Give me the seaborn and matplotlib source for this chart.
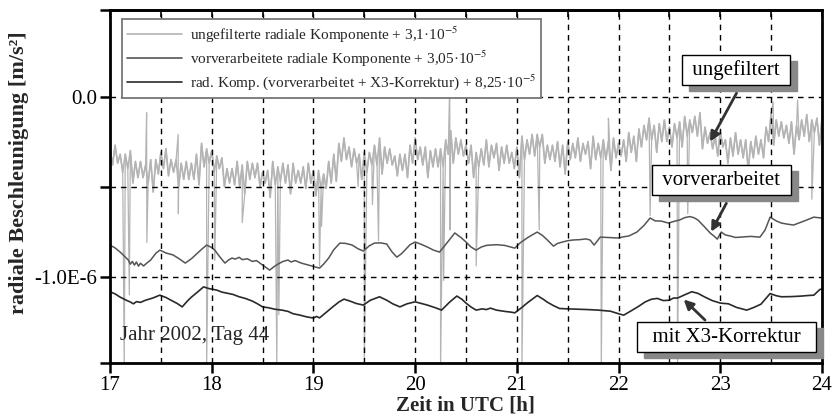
import numpy as np
import pandas as pd
import matplotlib
matplotlib.use("Agg")
import matplotlib.pyplot as plt
import matplotlib.transforms as mtransforms
import seaborn as sns

# ---------------- data (values in 1e-6 m/s^2) ----------------
# unfiltered radial component, sampled every 0.025 h from 17.0 to 24.0
raw_values = [
    -0.29, -0.38, -0.27, -0.37, -0.32, -0.42, -0.32, -0.40, -0.30, -0.48,
    -0.36, -0.45, -0.36, -0.45, -0.38, -0.48, -0.35, -0.53, -0.35, -0.43,
    -0.31, -0.40, -0.29, -0.44, -0.35, -0.42, -0.35, -0.50, -0.37, -0.46,
    -0.36, -0.46, -0.37, -0.46, -0.32, -0.49, -0.26, -0.39, -0.29, -0.37,
    -0.30, -0.42, -0.33, -0.40, -0.34, -0.50, -0.40, -0.48, -0.40, -0.49,
    -0.36, -0.50, -0.38, -0.54, -0.36, -0.46, -0.37, -0.45, -0.37, -0.50,
    -0.42, -0.48, -0.41, -0.56, -0.36, -0.49, -0.39, -0.47, -0.37, -0.48,
    -0.38, -0.54, -0.37, -0.48, -0.41, -0.48, -0.39, -0.51, -0.37, -0.48,
    -0.41, -0.55, -0.41, -0.51, -0.43, -0.51, -0.36, -0.48, -0.32, -0.47,
    -0.26, -0.36, -0.23, -0.35, -0.28, -0.39, -0.29, -0.37, -0.32, -0.46,
    -0.31, -0.42, -0.31, -0.38, -0.27, -0.38, -0.23, -0.43, -0.28, -0.37,
    -0.29, -0.38, -0.33, -0.44, -0.32, -0.41, -0.32, -0.45, -0.27, -0.37,
    -0.23, -0.35, -0.28, -0.38, -0.28, -0.45, -0.30, -0.39, -0.29, -0.39,
    -0.29, -0.39, -0.24, -0.32, -0.19, -0.37, -0.23, -0.32, -0.24, -0.33,
    -0.27, -0.37, -0.27, -0.45, -0.31, -0.39, -0.29, -0.38, -0.24, -0.39,
    -0.27, -0.34, -0.26, -0.41, -0.28, -0.37, -0.27, -0.37, -0.31, -0.40,
    -0.28, -0.45, -0.22, -0.35, -0.24, -0.32, -0.21, -0.33, -0.21, -0.28,
    -0.21, -0.37, -0.27, -0.35, -0.27, -0.36, -0.25, -0.39, -0.27, -0.43,
    -0.25, -0.35, -0.26, -0.34, -0.23, -0.36, -0.26, -0.32, -0.25, -0.40,
    -0.22, -0.35, -0.26, -0.34, -0.24, -0.35, -0.25, -0.41, -0.23, -0.34,
    -0.26, -0.33, -0.24, -0.36, -0.20, -0.31, -0.22, -0.36, -0.18, -0.28,
    -0.16, -0.24, -0.12, -0.24, -0.16, -0.31, -0.15, -0.25, -0.13, -0.25,
    -0.17, -0.28, -0.15, -0.23, -0.14, -0.28, -0.11, -0.22, -0.13, -0.20,
    -0.11, -0.22, -0.09, -0.29, -0.17, -0.26, -0.20, -0.29, -0.22, -0.33,
    -0.19, -0.28, -0.24, -0.37, -0.23, -0.33, -0.20, -0.32, -0.24, -0.34,
    -0.24, -0.41, -0.25, -0.34, -0.22, -0.32, -0.24, -0.34, -0.17, -0.25,
    -0.09, -0.27, -0.13, -0.22, -0.14, -0.23, -0.16, -0.26, -0.14, -0.32,
    -0.16, -0.24, -0.13, -0.22, -0.10, -0.25, -0.13, -0.20, -0.12, -0.27,
    -0.12,
]
raw_time = np.linspace(17.0, 24.0, len(raw_values))

# isolated spikes of the unfiltered series (time, extreme value)
spike_time = [17.14, 17.19, 17.36, 17.362, 17.67, 17.672, 17.95, 18.03, 18.30,
              18.64, 18.66, 19.06, 19.08, 19.44, 19.50, 19.58, 19.64, 20.25,
              20.28, 20.34, 20.342, 20.60, 21.05, 21.22, 21.83, 21.90, 22.31,
              22.58, 22.68, 23.52, 23.76, 23.90]
spike_value = [-1.50, -1.10, -0.09, -0.81, -0.21, -0.65, -1.50, -0.91, -0.70,
               -1.50, -1.21, -0.94, -0.72, -0.50, -1.50, -0.60, -0.80, -1.50,
               -1.02, 0.08, -0.74, -0.94, -1.50, -0.74, -1.50, -0.12, -0.66,
               -1.50, -0.65, -0.03, -0.02, -0.57]

# preprocessed radial component
pre_time = [17.00, 17.05, 17.10, 17.15, 17.18, 17.20, 17.22, 17.24, 17.26, 17.28,
            17.30, 17.33, 17.36, 17.40, 17.45, 17.49, 17.55, 17.62, 17.68, 17.74,
            17.80, 17.85, 17.90, 17.95, 18.00, 18.03, 18.08, 18.13, 18.17, 18.20,
            18.23, 18.27, 18.30, 18.35, 18.40, 18.44, 18.50, 18.57, 18.61, 18.65,
            18.70, 18.75, 18.78, 18.82, 18.88, 18.95, 19.01, 19.06, 19.10, 19.15,
            19.20, 19.26, 19.32, 19.38, 19.44, 19.49, 19.55, 19.60, 19.66, 19.72,
            19.77, 19.82, 19.86, 19.90, 19.95, 20.00, 20.06, 20.12, 20.18, 20.24,
            20.28, 20.32, 20.39, 20.45, 20.50, 20.55, 20.60, 20.65, 20.70, 20.74,
            20.80, 20.88, 20.94, 20.98, 21.03, 21.10, 21.15, 21.20, 21.25, 21.30,
            21.36, 21.40, 21.45, 21.50, 21.55, 21.62, 21.68, 21.72, 21.76, 21.82,
            21.90, 22.00, 22.05, 22.10, 22.18, 22.25, 22.31, 22.36, 22.42, 22.49,
            22.55, 22.60, 22.65, 22.70, 22.74, 22.78, 22.84, 22.90, 22.94, 22.97,
            23.01, 23.05, 23.10, 23.15, 23.20, 23.30, 23.39, 23.44, 23.49, 23.55,
            23.60, 23.66, 23.72, 23.78, 23.85, 23.92, 23.96, 24.00]
pre_value = [-0.824, -0.840, -0.863, -0.890, -0.907, -0.930, -0.915, -0.935,
             -0.918, -0.941, -0.925, -0.940, -0.925, -0.907, -0.870, -0.852,
             -0.868, -0.879, -0.900, -0.924, -0.900, -0.874, -0.848, -0.824,
             -0.838, -0.852, -0.890, -0.924, -0.905, -0.896, -0.902, -0.892,
             -0.905, -0.900, -0.915, -0.910, -0.935, -0.963, -0.945, -0.930,
             -0.915, -0.907, -0.918, -0.910, -0.924, -0.935, -0.944, -0.952,
             -0.930, -0.896, -0.850, -0.813, -0.815, -0.824, -0.845, -0.857,
             -0.828, -0.813, -0.812, -0.818, -0.860, -0.891, -0.875, -0.852,
             -0.822, -0.807, -0.820, -0.835, -0.852, -0.863, -0.835, -0.807,
             -0.757, -0.782, -0.807, -0.835, -0.852, -0.835, -0.826, -0.824,
             -0.822, -0.826, -0.835, -0.841, -0.813, -0.785, -0.768, -0.752,
             -0.770, -0.796, -0.830, -0.815, -0.807, -0.800, -0.796, -0.794,
             -0.790, -0.796, -0.824, -0.780, -0.782, -0.785, -0.778, -0.774,
             -0.752, -0.715, -0.674, -0.690, -0.691, -0.702, -0.692, -0.685,
             -0.672, -0.666, -0.672, -0.685, -0.720, -0.757, -0.775, -0.791,
             -0.752, -0.768, -0.774, -0.782, -0.780, -0.776, -0.780, -0.741,
             -0.669, -0.690, -0.702, -0.708, -0.713, -0.700, -0.685, -0.669,
             -0.672, -0.674]

# preprocessed + X3 correction
x3_time = [17.00, 17.05, 17.10, 17.16, 17.20, 17.23, 17.26, 17.30, 17.35, 17.42,
           17.49, 17.55, 17.60, 17.66, 17.71, 17.76, 17.80, 17.86, 17.92, 17.97,
           18.05, 18.10, 18.15, 18.21, 18.27, 18.33, 18.40, 18.45, 18.50, 18.56,
           18.62, 18.69, 18.75, 18.80, 18.87, 18.93, 19.00, 19.03, 19.06, 19.12,
           19.19, 19.25, 19.30, 19.36, 19.42, 19.49, 19.56, 19.65, 19.72, 19.78,
           19.85, 19.92, 20.00, 20.06, 20.12, 20.20, 20.26, 20.34, 20.41, 20.46,
           20.50, 20.55, 20.60, 20.66, 20.70, 20.74, 20.80, 20.88, 20.94, 20.98,
           21.05, 21.10, 21.20, 21.26, 21.30, 21.36, 21.42, 21.50, 21.60, 21.70,
           21.80, 21.86, 21.92, 22.00, 22.05, 22.12, 22.20, 22.26, 22.32, 22.38,
           22.44, 22.50, 22.54, 22.58, 22.65, 22.72, 22.78, 22.85, 22.92, 23.00,
           23.08, 23.16, 23.26, 23.33, 23.40, 23.49, 23.55, 23.60, 23.70, 23.80,
           23.86, 23.92, 23.98, 24.00]
x3_value = [-1.083, -1.095, -1.113, -1.130, -1.140, -1.150, -1.138, -1.142,
            -1.130, -1.118, -1.102, -1.115, -1.130, -1.148, -1.167, -1.135,
            -1.113, -1.085, -1.056, -1.065, -1.074, -1.085, -1.091, -1.098,
            -1.111, -1.120, -1.135, -1.150, -1.167, -1.172, -1.180, -1.185,
            -1.192, -1.205, -1.213, -1.222, -1.229, -1.220, -1.228, -1.200,
            -1.167, -1.140, -1.124, -1.135, -1.148, -1.157, -1.130, -1.111,
            -1.130, -1.150, -1.167, -1.150, -1.139, -1.148, -1.157, -1.172,
            -1.185, -1.140, -1.107, -1.125, -1.146, -1.168, -1.185, -1.178,
            -1.182, -1.174, -1.185, -1.192, -1.196, -1.200, -1.170, -1.146,
            -1.104, -1.125, -1.141, -1.160, -1.176, -1.178, -1.180, -1.182,
            -1.185, -1.188, -1.191, -1.205, -1.213, -1.190, -1.163, -1.140,
            -1.125, -1.120, -1.132, -1.130, -1.118, -1.118, -1.100, -1.083,
            -1.092, -1.113, -1.132, -1.146, -1.150, -1.170, -1.185, -1.170,
            -1.152, -1.093, -1.105, -1.111, -1.110, -1.107, -1.104, -1.102,
            -1.070, -1.068]

series_labels = [
    "ungefilterte radiale Komponente + 3,1·10$^{-5}$",
    "vorverarbeitete radiale Komponente + 3,05·10$^{-5}$",
    "rad. Komp. (vorverarbeitet + X3-Korrektur) + 8,25·10$^{-5}$",
]
ytick_values = [-1.48, -1.0, -0.5, 0.0, 0.48]
ytick_labels = ["", "-1.0E-6", "", "0.0", ""]
xtick_values = [17, 18, 19, 20, 21, 22, 23, 24]

# ---------------- styling ----------------
sns.set_theme(style="white")
plt.rcParams["font.family"] = ["Liberation Serif", "DejaVu Serif"]
plt.rcParams["mathtext.fontset"] = "stix"

fig = plt.figure(figsize=(8.32, 4.17), dpi=100)
ax = fig.add_axes([110 / 832, 1 - 363.3 / 417, 712 / 832, 353.3 / 417])

band_df = pd.DataFrame({"t": raw_time, "v": raw_values})
raw_df = pd.DataFrame({"t": np.concatenate([raw_time, spike_time]),
                       "v": np.concatenate([raw_values, spike_value])})
raw_df = raw_df.sort_values("t", kind="mergesort").reset_index(drop=True)
pre_df = pd.DataFrame({"t": pre_time, "v": pre_value})
x3_df = pd.DataFrame({"t": x3_time, "v": x3_value})

raw_color = "#b4b4b4"
sns.lineplot(data=raw_df, x="t", y="v", ax=ax, color=raw_color, lw=0.9,
             estimator=None, sort=False, label=series_labels[0])
sns.lineplot(data=band_df, x="t", y="v", ax=ax, color=raw_color, lw=1.2,
             estimator=None, sort=False, legend=False)
sns.lineplot(data=pre_df, x="t", y="v", ax=ax, color="#555555", lw=1.1,
             estimator=None, sort=False, label=series_labels[1])
sns.lineplot(data=x3_df, x="t", y="v", ax=ax, color="#2a2a2a", lw=1.2,
             estimator=None, sort=False, label=series_labels[2])

ax.set_xlim(17, 24)
ax.set_ylim(-1.48, 0.48)
ax.set_xticks(xtick_values)
ax.set_xticklabels([str(v) for v in xtick_values], fontsize=15)
ax.set_yticks(ytick_values)
ax.set_yticklabels(ytick_labels, fontsize=15)

# dashed grid on top of the curves
grid_kw = dict(color="black", lw=1.0, ls=(0, (4, 3.5)), zorder=2.6)
for gx in np.arange(17.5, 24.0, 0.5):
    ax.axvline(gx, **grid_kw)
for gy in [0.0, -0.5, -1.0]:
    ax.axhline(gy, **grid_kw)

for sp in ax.spines.values():
    sp.set_visible(True)
    sp.set_color("black")
    sp.set_linewidth(2.0)
    sp.set_zorder(6)
ax.tick_params(axis="both", which="major", direction="out", length=7, width=1.8,
               color="black", pad=2, labelcolor="black")
ax.tick_params(axis="x", top=False, bottom=True)
ax.tick_params(axis="y", left=True, right=False)

top = ax.secondary_xaxis("top")
top.set_xticks(np.arange(17.0, 24.01, 0.5))
top.tick_params(direction="in", length=5, width=1.2, labeltop=False, color="black")
top.spines["top"].set_linewidth(2.0)

ax.set_xlabel("Zeit in UTC [h]", fontsize=15, fontweight="bold", labelpad=0)
ax.set_ylabel("radiale Beschleunigung [m/s²]", fontsize=16, fontweight="bold")
ax.yaxis.set_label_coords(-0.114, 0.54)
ax.xaxis.set_label_coords(0.4986, -0.092)

leg = ax.legend(loc="upper left", bbox_to_anchor=(0.0169, 0.9745),
                borderaxespad=0, fontsize=11, frameon=True, fancybox=False,
                handlelength=3.6, labelspacing=0.25, borderpad=0.35,
                handletextpad=0.5)
leg.get_frame().set_edgecolor("#777777")
leg.get_frame().set_linewidth(1.3)
leg.get_frame().set_facecolor("white")
leg.get_frame().set_alpha(1)
leg.set_zorder(7)
for h in leg.get_lines():
    h.set_linewidth(1.2)

ax.text(17.1, -1.35, "Jahr 2002, Tag 44", fontsize=15, ha="left", va="baseline",
        zorder=3)

# annotation boxes with drop shadow
shadow = mtransforms.offset_copy(ax.transData, fig=fig, x=7, y=-6, units="dots")
boxes = [
    (" ungefiltert ", 23.155, 0.148, (23.16, 0.019), (22.90, -0.25)),
    (" vorverarbeitet ", 23.01, -0.464, (23.06, -0.592), (22.91, -0.75)),
    ("  mit X3-Korrektur  ", 23.06, -1.335, (22.85, -1.24), (22.64, -1.126)),
]
for txt, bx, by, start, tip in boxes:
    ax.annotate("", xy=tip, xytext=start,
                arrowprops=dict(arrowstyle="-|>", color="#333333", lw=2.0,
                                mutation_scale=14, shrinkA=0, shrinkB=0),
                zorder=8)
    ax.text(bx, by, txt, transform=shadow, fontsize=15, ha="center",
            va="center", color="#888888",
            bbox=dict(boxstyle="square,pad=0.25", fc="#888888", ec="#888888",
                      lw=1.0), zorder=8)
    ax.text(bx, by, txt, fontsize=15, ha="center", va="center", color="black",
            bbox=dict(boxstyle="square,pad=0.25", fc="white", ec="black",
                      lw=1.0), zorder=9)

fig.savefig("out.png", dpi=100)
